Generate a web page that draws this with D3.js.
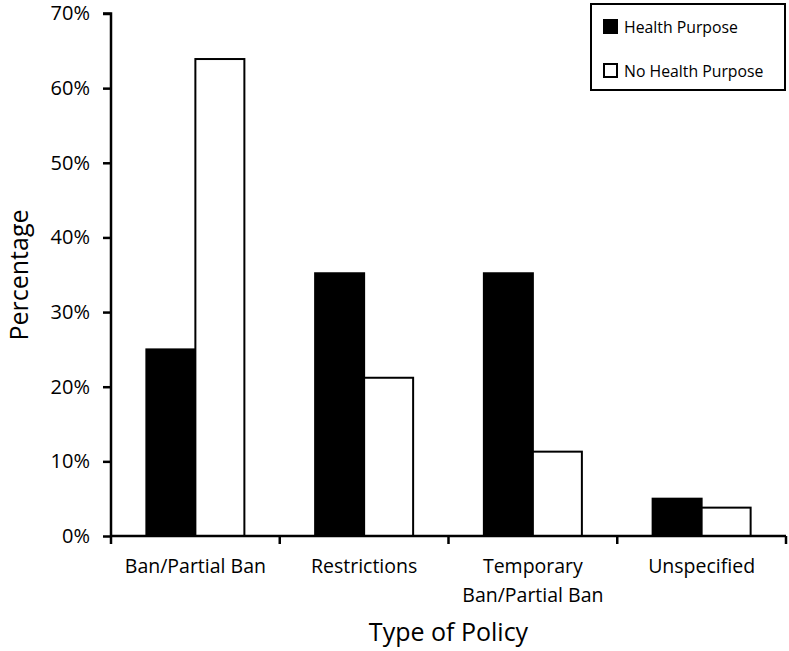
<!DOCTYPE html>
<html><head><meta charset="utf-8">
<script src="https://cdn.jsdelivr.net/npm/d3@7"></script>
<style>body{margin:0;background:#fff}svg{display:block}text{font-family:"Open Sans",Lato,sans-serif;fill:#000}</style>
</head><body>
<script>
const categories = [["Ban/Partial Ban"], ["Restrictions"], ["Temporary", "Ban/Partial Ban"], ["Unspecified"]];
const seriesNames = ["Health Purpose", "No Health Purpose"];
const healthPurpose = [25.0, 35.2, 35.2, 5.0];
const noHealthPurpose = [63.9, 21.2, 11.3, 3.8];
const yTicks = [0, 10, 20, 30, 40, 50, 60, 70];
const fills = ["#000", "#fff"];

const W = 789, H = 651;
const svg = d3.select("body").append("svg").attr("width", W).attr("height", H);
const x0 = 111, x1 = 786, yTop = 13.5, yBot = 536;
const x = d3.scaleBand().domain(d3.range(categories.length)).range([x0, x1]).paddingInner(0).paddingOuter(0);
const y = d3.scaleLinear().domain([0, 70]).range([yBot, yTop]);
const groupW = 98;
const xs = d3.scaleBand().domain([0, 1]).range([0, groupW]);

const series = [healthPurpose, noHealthPurpose];
series.forEach((vals, si) => {
  svg.append("g").selectAll("rect").data(vals).join("rect")
    .attr("x", (d, i) => x(i) + (x.bandwidth() - groupW) / 2 + xs(si))
    .attr("y", d => y(d))
    .attr("width", xs.bandwidth())
    .attr("height", d => yBot - y(d))
    .attr("fill", fills[si])
    .attr("stroke", "#000").attr("stroke-width", 2);
});

// y axis
const yAxis = d3.axisLeft(y).tickValues(yTicks).tickFormat(d => d + "%").tickSize(8).tickPadding(13);
const gy = svg.append("g").attr("transform", `translate(${x0},0)`).call(yAxis);
gy.select(".domain").attr("stroke-width", 2.5).attr("d", `M-8,${yTop}H0V${yBot}`);
gy.selectAll(".tick line").attr("stroke-width", 2.5);
gy.selectAll(".tick text").style("font-size", "20px").attr("font-family", null);

// x axis
const edges = d3.range(categories.length + 1).map(i => i < categories.length ? x(i) : x1);
const gx = svg.append("g");
gx.append("line").attr("x1", x0).attr("x2", x1).attr("y1", yBot).attr("y2", yBot).attr("stroke", "#000").attr("stroke-width", 2.5);
gx.selectAll("line.t").data(edges).join("line").attr("class", "t")
  .attr("x1", d => d).attr("x2", d => d).attr("y1", yBot).attr("y2", yBot + 8)
  .attr("stroke", "#000").attr("stroke-width", 2.5);
gx.selectAll("text.c").data(categories).join("text").attr("class", "c")
  .attr("x", (d, i) => x(i) + x.bandwidth() / 2).attr("y", 573)
  .attr("text-anchor", "middle").style("font-size", "19.5px")
  .each(function(d) {
    d3.select(this).selectAll("tspan").data(d).join("tspan")
      .attr("x", d3.select(this).attr("x")).attr("dy", (t, j) => j ? 29 : 0).text(t => t);
  });

svg.append("text").attr("x", (x0 + x1) / 2).attr("y", 641).attr("text-anchor", "middle")
  .style("font-size", "25px").text("Type of Policy");
svg.append("text").attr("transform", `translate(28,${275}) rotate(-90)`).attr("text-anchor", "middle")
  .style("font-size", "25px").text("Percentage");

// legend
const lg = svg.append("g");
lg.append("rect").attr("x", 591).attr("y", 4).attr("width", 194).attr("height", 86)
  .attr("fill", "#fff").attr("stroke", "#000").attr("stroke-width", 2);
seriesNames.forEach((n, i) => {
  lg.append("rect").attr("x", 604).attr("y", 20 + i * 44).attr("width", 13).attr("height", 13)
    .attr("fill", fills[i]).attr("stroke", "#000").attr("stroke-width", 2);
  lg.append("text").attr("x", 624).attr("y", 33 + i * 44).style("font-size", "15.8px").text(n);
});
</script>
</body></html>
